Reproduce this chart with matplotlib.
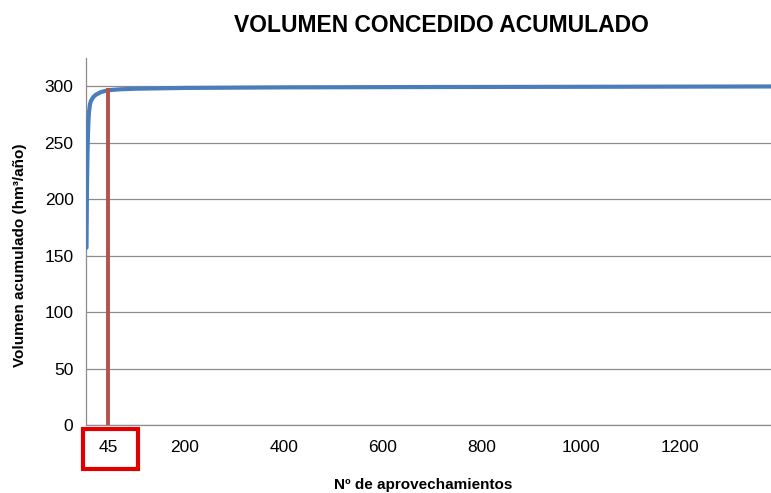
import matplotlib
matplotlib.use("Agg")
import matplotlib.pyplot as plt
from matplotlib.patches import Rectangle

# data
n_aprov = [1, 2, 3, 4, 5, 6, 8, 10, 15, 20, 30, 45, 70, 100, 200, 400, 700, 1000, 1385]
vol_acum = [157, 212, 240, 258, 270, 277, 284, 287, 290.5, 292.5, 294.8, 296.5, 297.3,
            297.8, 298.5, 299.0, 299.3, 299.5, 299.8]
marker_n = 45
marker_vol = 296.5
xtick_vals = [45, 200, 400, 600, 800, 1000, 1200]
ytick_vals = [0, 50, 100, 150, 200, 250, 300]

plt.rcParams['font.family'] = ['Liberation Sans', 'DejaVu Sans']

fig = plt.figure(figsize=(7.71, 4.93), dpi=100)
ax = fig.add_axes([86/771, 1-425/493, 1-86/771, (425-58)/493])

ax.plot(n_aprov, vol_acum, color='#4a7ebb', lw=3, solid_capstyle='round', zorder=3)
ax.plot([marker_n, marker_n], [0, marker_vol], color='#b5504d', lw=2.8, zorder=4)

ax.set_xlim(0, 1385)
ax.set_ylim(0, 325)
ax.set_xticks(xtick_vals)
ax.set_yticks(ytick_vals)
ax.tick_params(length=0, labelsize=12.5, pad=11)
ax.tick_params(axis='y', pad=9)
ax.yaxis.grid(True, color='#8c8c8c', lw=0.9)
ax.set_axisbelow(True)
for s in ['top', 'right']:
    ax.spines[s].set_visible(False)
for s in ['left', 'bottom']:
    ax.spines[s].set_color('#8c8c8c')
    ax.spines[s].set_linewidth(0.9)

fig.text(441/771, 1-25/493, 'VOLUMEN CONCEDIDO ACUMULADO', ha='center', va='center',
         fontsize=16.5, fontweight='bold')
fig.text(423/771, 1-485/493, 'Nº de aprovechamientos', ha='center', va='center',
         fontsize=11, fontweight='bold')
fig.text(20/771, 1-255/493, 'Volumen acumulado (hm³/año)', ha='center', va='center',
         rotation=90, fontsize=11, fontweight='bold')

rect = Rectangle((83/771, 1-469/493), 55/771, 40/493, transform=fig.transFigure,
                 fill=False, edgecolor='#e00000', lw=3, clip_on=False)
fig.patches.append(rect)

fig.savefig('out.png', dpi=100, facecolor='white')
